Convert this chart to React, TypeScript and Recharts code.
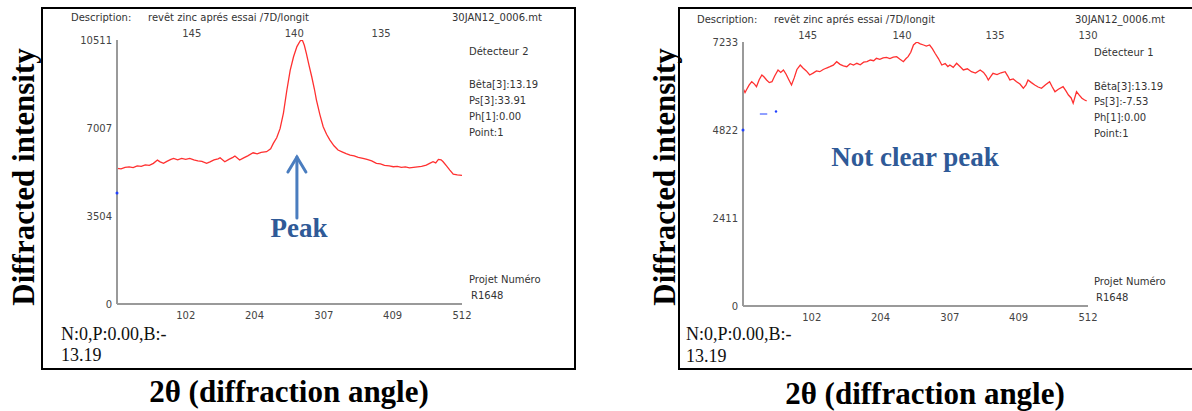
import React from "react";
import {
  LineChart,
  Line,
  XAxis,
  YAxis,
  ReferenceLine,
  ReferenceDot,
} from "recharts";

// detector 2 scan (left panel)
const leftChannels = [
  0, 6, 12, 18, 24, 30, 36, 42, 48, 54, 60, 64, 69, 74, 80, 84, 90, 96, 102, 108,
  114, 120, 126, 133, 138, 144, 150, 153, 160, 166, 172, 175, 182, 188, 194, 202,
  208, 214, 222, 228, 232, 237, 242, 247, 252, 257, 262, 267, 272, 275, 278, 281,
  285, 289, 293, 296, 301, 306, 311, 316, 322, 328, 334, 340, 346, 352, 358, 365,
  371, 378, 385, 391, 397, 404, 410, 416, 422, 428, 434, 440, 446, 452, 459, 464,
  469, 473, 477, 481, 484, 489, 494, 499, 505, 512,
];
const leftCounts = [
  5400, 5380, 5440, 5460, 5430, 5500, 5480, 5540, 5520, 5600, 5730, 5660, 5600,
  5680, 5760, 5800, 5740, 5800, 5760, 5800, 5740, 5700, 5680, 5600, 5660, 5740,
  5780, 5823, 5664, 5760, 5840, 5890, 5731, 5820, 5900, 6022, 5980, 6040, 6062,
  6180, 6396, 6620, 6980, 7600, 8500, 9300, 9843, 10250, 10480, 10511, 10300,
  9978, 9500, 9047, 8550, 8119, 7550, 7057, 6760, 6527, 6300, 6129, 6060, 5990,
  5930, 5900, 5840, 5799, 5760, 5700, 5600, 5580, 5520, 5500, 5465, 5480, 5440,
  5460, 5420, 5441, 5460, 5480, 5532, 5600, 5664, 5620, 5759, 5740, 5664, 5500,
  5333, 5174, 5140, 5120,
];

// detector 1 scan (right panel)
const rightChannels = [
  0, 3, 5, 9, 13, 17, 20, 24, 28, 31, 35, 39, 43, 47, 52, 56, 60, 64, 68, 72, 76,
  80, 85, 89, 94, 99, 104, 109, 114, 119, 124, 129, 134, 139, 144, 149, 154, 159,
  164, 169, 174, 179, 184, 189, 194, 198, 203, 208, 213, 218, 223, 228, 233, 238,
  242, 245, 249, 253, 258, 263, 268, 272, 277, 281, 285, 290, 295, 300, 304, 307,
  312, 317, 322, 327, 333, 339, 345, 352, 357, 361, 364, 368, 371, 377, 383, 389,
  393, 396, 401, 406, 411, 416, 420, 423, 428, 433, 438, 443, 449, 455, 459, 463,
  468, 475, 479, 483, 487, 490, 495, 499, 503, 507, 510,
];
const rightCounts = [
  5965, 5850, 5918, 6050, 6146, 6080, 6009, 6200, 6329, 6280, 6192, 6120, 6146,
  6300, 6466, 6400, 6466, 6350, 6200, 6055, 6250, 6480, 6603, 6520, 6440, 6329,
  6380, 6440, 6420, 6480, 6520, 6557, 6600, 6694, 6620, 6580, 6557, 6640, 6600,
  6650, 6610, 6680, 6694, 6740, 6720, 6787, 6760, 6800, 6814, 6780, 6820, 6831,
  6760, 6694, 6780, 6831, 6950, 7151, 7233, 7180, 7151, 7120, 7151, 7050, 6924,
  6780, 6603, 6640, 6560, 6603, 6540, 6650, 6560, 6466, 6500, 6420, 6380, 6466,
  6400, 6300, 6192, 6300, 6376, 6340, 6390, 6420, 6300, 6192, 6220, 6146, 6080,
  5965, 6060, 6192, 6120, 6055, 6000, 5965, 6060, 6146, 6000, 5872, 5940, 6009,
  5900, 5781, 5700, 5554, 5872, 5780, 5691, 5644, 5620,
];

const channelTicks = [102, 204, 307, 409, 512];
const leftYTicks = [0, 3504, 7007, 10511];
const rightYTicks = [0, 2411, 4822, 7233];
const leftAnglePos = [111, 263, 392];
const leftAngleLabels = ["145", "140", "135"];
const rightAnglePos = [96, 236, 374, 512];
const rightAngleLabels = ["145", "140", "135", "130"];

const sideLines = ["Bêta[3]:13.19", "Ph[1]:0.00", "Point:1"];

const zip = (xs: number[], ys: number[]) =>
  xs.map((x, i) => ({ ch: x, counts: ys[i] }));

const small = { fontFamily: "DejaVu Sans", fontSize: 10, fill: "#444" };

const ArrowShape = (p: any) => {
  const x = p.x1;
  const tip = Math.min(p.y1, p.y2);
  const base = Math.max(p.y1, p.y2);
  return (
    <g stroke="#4a7dbf" strokeWidth={3} fill="none" strokeLinecap="round">
      <line x1={x} y1={base} x2={x} y2={tip} />
      <polyline points={`${x - 9},${tip + 15} ${x},${tip} ${x + 9},${tip + 15}`} />
    </g>
  );
};

function T({ x, y, children, style, center }: any) {
  return (
    <div
      style={{
        position: "absolute",
        left: x,
        top: y,
        transform: center ? "translate(-50%, -50%)" : "translateY(-50%)",
        whiteSpace: "nowrap",
        lineHeight: 1,
        ...style,
      }}
    >
      {children}
    </div>
  );
}

const sans = { fontFamily: "DejaVu Sans", fontSize: 10, color: "#333" };
const serif = { fontFamily: "Liberation Serif", fontSize: 18, color: "#111" };
const bigBold = {
  fontFamily: "Liberation Serif",
  fontWeight: "bold",
  fontSize: 31,
  color: "#000",
};
const blueBold = {
  fontFamily: "Liberation Serif",
  fontWeight: "bold",
  fontSize: 27,
  color: "#2f5a97",
};

function Scan({
  data,
  yTicks,
  anglePos,
  angleLabels,
  width,
  yWidth,
  right,
  top,
  bottom,
  children,
}: any) {
  return (
    <LineChart
      width={width}
      height={363}
      data={data}
      margin={{ top, right, bottom, left: 0 }}
    >
      <XAxis
        xAxisId="ch"
        dataKey="ch"
        type="number"
        domain={[0, 512]}
        allowDataOverflow
        ticks={channelTicks}
        interval={0}
        tickLine={false}
        axisLine={{ stroke: "#9a9a9a", strokeWidth: 2 }}
        tick={small}
        height={30}
      />
      <XAxis
        xAxisId="angle"
        dataKey="ch"
        orientation="top"
        type="number"
        domain={[0, 512]}
        allowDataOverflow
        ticks={anglePos}
        interval={0}
        tickFormatter={(v: number) => angleLabels[anglePos.indexOf(v)]}
        axisLine={false}
        tickLine={false}
        tickSize={0}
        tickMargin={3}
        tick={small}
        height={20}
      />
      <YAxis
        type="number"
        domain={[0, yTicks[yTicks.length - 1]]}
        allowDataOverflow
        ticks={yTicks}
        interval={0}
        tickLine={false}
        tickSize={3}
        tickMargin={2}
        axisLine={{ stroke: "#9a9a9a", strokeWidth: 2 }}
        tick={small}
        width={yWidth}
      />
      <Line
        xAxisId="angle"
        type="linear"
        dataKey="counts"
        stroke="transparent"
        dot={false}
        activeDot={false}
        legendType="none"
        isAnimationActive={false}
      />
      <Line
        xAxisId="ch"
        type="linear"
        dataKey="counts"
        stroke="#ff3030"
        strokeWidth={1.3}
        dot={false}
        isAnimationActive={false}
      />
      {children}
    </LineChart>
  );
}

export default function App() {
  const leftData = zip(leftChannels, leftCounts);
  const rightData = zip(rightChannels, rightCounts);

  return (
    <div
      style={{
        position: "absolute",
        left: 0,
        top: 0,
        width: 1192,
        height: 411,
        background: "#fff",
        overflow: "hidden",
      }}
    >
      {/* panel frames */}
      <div
        style={{
          position: "absolute",
          left: 41,
          top: 7,
          width: 535,
          height: 363,
          border: "2px solid #000",
          boxSizing: "border-box",
        }}
      />
      <div
        style={{
          position: "absolute",
          left: 678,
          top: 7,
          width: 540,
          height: 363,
          border: "2px solid #000",
          boxSizing: "border-box",
        }}
      />

      <div style={{ position: "absolute", left: 41, top: 7 }}>
        <Scan
          data={leftData}
          yTicks={leftYTicks}
          anglePos={leftAnglePos}
          angleLabels={leftAngleLabels}
          width={534}
          yWidth={76}
          right={113}
          top={13}
          bottom={36}
        >
          <ReferenceDot xAxisId="ch" x={0} y={4420} r={1.5} fill="#2040ff" stroke="none" />
          <ReferenceLine
            xAxisId="ch"
            segment={[
              { x: 267, y: 3420 },
              { x: 267, y: 5850 },
            ]}
            shape={ArrowShape}
          />
        </Scan>
      </div>

      <div style={{ position: "absolute", left: 678, top: 7 }}>
        <Scan
          data={rightData}
          yTicks={rightYTicks}
          anglePos={rightAnglePos}
          angleLabels={rightAngleLabels}
          width={514}
          yWidth={65}
          right={104}
          top={15}
          bottom={34}
        >
          <ReferenceDot xAxisId="ch" x={0} y={4822} r={1.5} fill="#2040ff" stroke="none" />
          <ReferenceLine
            xAxisId="ch"
            segment={[
              { x: 25, y: 5260 },
              { x: 36, y: 5260 },
            ]}
            stroke="#2040ff"
            strokeWidth={1}
          />
          <ReferenceDot xAxisId="ch" x={49} y={5330} r={1.2} fill="#2040ff" stroke="none" />
        </Scan>
      </div>

      {/* left panel texts */}
      <T x={71} y={18} style={sans}>Description:</T>
      <T x={148} y={18} style={sans}>revêt zinc aprés essai /7D/longit</T>
      <T x={452} y={18} style={sans}>30JAN12_0006.mt</T>
      <T x={469} y={52} style={sans}>Détecteur 2</T>
      <T x={469} y={85} style={sans}>{sideLines[0]}</T>
      <T x={469} y={101} style={sans}>Ps[3]:33.91</T>
      <T x={469} y={117} style={sans}>{sideLines[1]}</T>
      <T x={469} y={133} style={sans}>{sideLines[2]}</T>
      <T x={469} y={280} style={sans}>Projet Numéro</T>
      <T x={471} y={296} style={sans}>R1648</T>
      <T x={61} y={334} style={serif}>N:0,P:0.00,B:-</T>
      <T x={61} y={355} style={serif}>13.19</T>
      <T x={299} y={228} center style={blueBold}>Peak</T>
      <T x={289} y={391} center style={bigBold}>2θ (diffraction angle)</T>
      <T
        x={23}
        y={177}
        center
        style={{ ...bigBold, transform: "translate(-50%, -50%) rotate(-90deg)" }}
      >
        Diffracted intensity
      </T>

      {/* right panel texts */}
      <T x={697} y={20} style={sans}>Description:</T>
      <T x={774} y={20} style={sans}>revêt zinc aprés essai /7D/longit</T>
      <T x={1075} y={20} style={sans}>30JAN12_0006.mt</T>
      <T x={1094} y={53} style={sans}>Détecteur 1</T>
      <T x={1094} y={87} style={sans}>{sideLines[0]}</T>
      <T x={1094} y={102} style={sans}>Ps[3]:-7.53</T>
      <T x={1094} y={118} style={sans}>{sideLines[1]}</T>
      <T x={1094} y={134} style={sans}>{sideLines[2]}</T>
      <T x={1094} y={282} style={sans}>Projet Numéro</T>
      <T x={1096} y={298} style={sans}>R1648</T>
      <T x={686} y={334} style={serif}>N:0,P:0.00,B:-</T>
      <T x={686} y={356} style={serif}>13.19</T>
      <T x={915} y={157} center style={blueBold}>Not clear peak</T>
      <T x={925} y={393} center style={bigBold}>2θ (diffraction angle)</T>
      <T
        x={664}
        y={177}
        center
        style={{ ...bigBold, transform: "translate(-50%, -50%) rotate(-90deg)" }}
      >
        Diffracted intensity
      </T>
    </div>
  );
}
